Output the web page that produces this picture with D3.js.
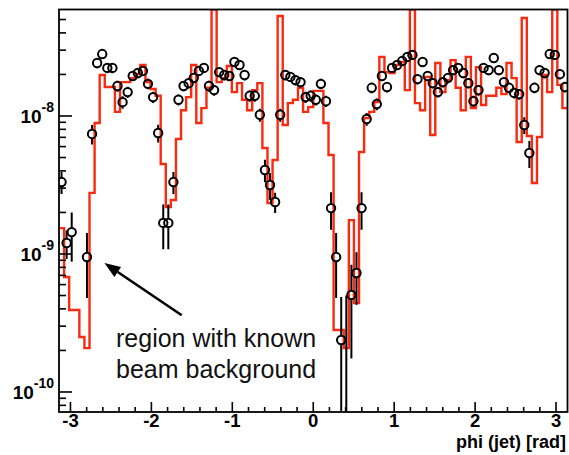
<!DOCTYPE html>
<html>
<head>
<meta charset="utf-8">
<script src="https://cdn.jsdelivr.net/npm/d3@7"></script>
<style>
  html, body { margin: 0; padding: 0; background: #fff; }
  svg { display: block; }
</style>
</head>
<body>
<svg id="chart" width="569" height="455"></svg>
<script>
// phi(jet) distribution: 100 bins over [-pi, pi]
const binCount = 100;

// simulation histogram (red), one value per bin
const histValues = [
  1.54e-9, 6.81e-10, 3.93e-10, 3.93e-10, 2.50e-10, 2.08e-10, 2.77e-9, 8.90e-9, 1.98e-8, 1.62e-8,
  1.62e-8, 1.07e-8, 1.76e-8, 1.76e-8, 1.88e-8, 2.01e-8, 2.34e-8, 1.76e-8, 1.57e-8, 1.40e-8,
  4.49e-9, 2.19e-9, 2.46e-9, 6.81e-9, 1.10e-8, 1.37e-8, 2.34e-8, 8.90e-9, 1.14e-8, 1.60e-8,
  8.00e-8, 1.76e-8, 1.88e-8, 2.30e-8, 1.49e-8, 1.73e-8, 1.31e-8, 1.10e-8, 1.54e-8, 1.73e-8,
  5.86e-9, 2.34e-9, 4.80e-9, 5.30e-8, 8.61e-9, 1.24e-8, 1.31e-8, 1.60e-8, 1.07e-8, 1.16e-8,
  1.52e-8, 1.52e-8, 8.90e-9, 5.22e-9, 2.81e-10, 2.81e-10, 2.08e-10, 1.76e-9, 4.41e-10, 5.48e-9,
  9.67e-9, 1.07e-8, 1.26e-8, 2.68e-8, 2.08e-8, 2.05e-8, 2.34e-8, 2.46e-8, 1.54e-8, 8.00e-8,
  1.24e-8, 1.10e-8, 1.92e-8, 7.28e-9, 2.42e-8, 1.49e-8, 1.82e-8, 2.54e-8, 1.60e-8, 1.10e-8,
  2.68e-8, 1.14e-8, 2.26e-8, 1.20e-8, 1.40e-8, 1.40e-8, 1.60e-8, 1.44e-8, 2.42e-8, 1.88e-8,
  6.48e-9, 5.13e-8, 7.16e-9, 3.27e-9, 7.05e-9, 1.98e-8, 1.49e-8, 8.00e-8, 1.68e-8, 1.14e-8
];

// measured points (open circles); null = empty bin
const dataValues = [
  3.32e-9, 1.20e-9, 1.44e-9, null, null, 9.5e-10, 7.41e-9, 2.42e-8, 2.81e-8, 2.23e-8,
  2.23e-8, 1.65e-8, 1.26e-8, 1.49e-8, 1.95e-8, 2.05e-8, 2.12e-8, 1.71e-8, 1.37e-8, 7.53e-9,
  1.68e-9, 1.68e-9, 3.32e-9, 1.31e-8, 1.65e-8, 1.73e-8, 1.89e-8, 2.12e-8, 2.23e-8, 1.65e-8,
  1.54e-8, 2.08e-8, 1.98e-8, 1.95e-8, 2.46e-8, 2.34e-8, 1.98e-8, 1.40e-8, 1.40e-8, 1.02e-8,
  4.06e-9, 3.16e-9, 2.38e-9, 1.02e-8, 1.98e-8, 1.92e-8, 1.82e-8, 1.76e-8, 1.37e-8, 1.40e-8,
  1.31e-8, 1.71e-8, 1.28e-8, 2.15e-9, 9.5e-10, 2.38e-10, 5.0e-11, 5.05e-10, 7.28e-10, 2.15e-9,
  9.51e-9, 1.60e-8, 1.22e-8, 1.95e-8, 1.62e-8, 2.23e-8, 2.34e-8, 2.50e-8, 2.68e-8, 2.77e-8,
  1.85e-8, 2.46e-8, 1.95e-8, 1.73e-8, 1.49e-8, 1.76e-8, 1.89e-8, 2.15e-8, 2.23e-8, 2.05e-8,
  1.73e-8, 1.28e-8, 1.54e-8, 2.23e-8, 2.15e-8, 2.63e-8, 2.15e-8, 1.76e-8, 1.60e-8, 1.47e-8,
  1.44e-8, 8.61e-9, 5.39e-9, 1.60e-8, 2.15e-8, 2.05e-8, 2.81e-8, 2.77e-8, 2.01e-8, 1.62e-8
];

// statistical uncertainty of each point
const dataErrors = [
  0.60e-9, 0.28e-9, 0.56e-9, null, null, 0.47e-9, 1.2e-9, 2.0e-9, 2.2e-9, 1.9e-9,
  1.9e-9, 1.5e-9, 1.3e-9, 1.4e-9, 1.6e-9, 1.7e-9, 1.7e-9, 1.5e-9, 1.3e-9, 1.1e-9,
  0.60e-9, 0.60e-9, 0.60e-9, 1.2e-9, 1.4e-9, 1.5e-9, 1.6e-9, 1.7e-9, 1.8e-9, 1.5e-9,
  1.4e-9, 1.7e-9, 1.7e-9, 1.6e-9, 2.0e-9, 1.9e-9, 1.7e-9, 1.3e-9, 1.3e-9, 1.1e-9,
  0.75e-9, 0.70e-9, 0.40e-9, 1.1e-9, 1.7e-9, 1.6e-9, 1.6e-9, 1.5e-9, 1.3e-9, 1.3e-9,
  1.2e-9, 1.5e-9, 1.2e-9, 0.65e-9, 0.47e-9, 2.5e-10, 4.5e-10, 3.3e-10, 3.0e-10, 0.65e-9,
  1.0e-9, 1.4e-9, 1.2e-9, 1.6e-9, 1.4e-9, 1.8e-9, 1.9e-9, 2.0e-9, 2.1e-9, 2.2e-9,
  1.6e-9, 2.0e-9, 1.6e-9, 1.5e-9, 1.3e-9, 1.5e-9, 1.6e-9, 1.8e-9, 1.8e-9, 1.7e-9,
  1.5e-9, 1.2e-9, 1.4e-9, 1.8e-9, 1.8e-9, 2.1e-9, 1.8e-9, 1.5e-9, 1.4e-9, 1.3e-9,
  1.3e-9, 1.2e-9, 1.2e-9, 1.4e-9, 1.8e-9, 1.7e-9, 2.2e-9, 2.2e-9, 1.7e-9, 1.4e-9
];

const xTickLabels = [-3, -2, -1, 0, 1, 2, 3];
const yDecades = [-10, -9, -8];
const xTitle = "phi (jet) [rad]";
const noteLines = ["region with known", "beam background"];

// ---- layout ----
const frame = { left: 59, right: 567.5, top: 9.5, bottom: 412 };
const red = "#f82a10";
const font = "'Liberation Sans', Arial, Helvetica, sans-serif";
const svg = d3.select("#chart");

const x = d3.scaleLinear().domain([-Math.PI, Math.PI]).range([frame.left, frame.right]);
const y = d3.scaleLog().domain([7.16e-11, 5.91e-8]).range([frame.bottom, frame.top]);
const yHist = y.copy().clamp(true);   // overflowing bins are drawn at the frame edge

const binWidth = 2 * Math.PI / binCount;
const binLow = i => -Math.PI + i * binWidth;
const binCenter = i => -Math.PI + (i + 0.5) * binWidth;

svg.append("defs").append("clipPath").attr("id", "plotArea")
  .append("rect")
  .attr("x", frame.left).attr("y", frame.top)
  .attr("width", frame.right - frame.left).attr("height", frame.bottom - frame.top);

const plot = svg.append("g").attr("clip-path", "url(#plotArea)");

// ---- red histogram outline ----
const stepPoints = histValues.map((v, i) => [binLow(i), v]);
stepPoints.push([Math.PI, histValues[histValues.length - 1]]);
plot.append("path")
  .attr("d", d3.line().x(d => x(d[0])).y(d => yHist(d[1])).curve(d3.curveStepAfter)(stepPoints))
  .attr("fill", "none")
  .attr("stroke", red)
  .attr("stroke-width", 2.4)
  .attr("stroke-linejoin", "miter");

// ---- data points with error bars ----
const r = 4.2;
const points = dataValues
  .map((v, i) => ({ i, v, e: dataErrors[i] }))
  .filter(d => d.v !== null);

const errG = plot.append("g").attr("stroke", "#000").attr("stroke-width", 2);
points.forEach(d => {
  const cx = x(binCenter(d.i));
  const cy = y(d.v);
  const yHi = y(d.v + d.e);
  const lo = d.v - d.e;
  const yLo = lo > 0 ? y(lo) : frame.bottom + 20;
  if (yHi < cy - r) {
    errG.append("line").attr("x1", cx).attr("x2", cx).attr("y1", yHi).attr("y2", Math.min(cy - r, frame.bottom + 20));
  }
  if (yLo > cy + r) {
    errG.append("line").attr("x1", cx).attr("x2", cx).attr("y1", cy + r).attr("y2", yLo);
  }
});

plot.append("g").selectAll("circle")
  .data(points.filter(d => y(d.v) < frame.bottom))
  .join("circle")
  .attr("cx", d => x(binCenter(d.i)))
  .attr("cy", d => y(d.v))
  .attr("r", r)
  .attr("fill", "none")
  .attr("stroke", "#000")
  .attr("stroke-width", 2);

// ---- frame ----
svg.append("rect")
  .attr("x", frame.left).attr("y", frame.top)
  .attr("width", frame.right - frame.left).attr("height", frame.bottom - frame.top)
  .attr("fill", "none").attr("stroke", "#000").attr("stroke-width", 1.8);

// ---- y axis ticks (log, inward) ----
const [yMin, yMax] = y.domain();
const yTickG = svg.append("g").attr("stroke", "#000").attr("stroke-width", 1.6);
for (let dec = -11; dec <= -7; dec++) {
  for (let m = 1; m <= 9; m++) {
    const v = m * Math.pow(10, dec);
    if (v < yMin || v > yMax) continue;
    const len = m === 1 ? 13 : 7;
    yTickG.append("line")
      .attr("x1", frame.left).attr("x2", frame.left + len)
      .attr("y1", y(v)).attr("y2", y(v));
  }
}

const yLab = svg.append("g")
  .attr("font-family", font)
  .attr("font-weight", "bold")
  .attr("fill", "#000");
yDecades.forEach(dec => {
  const t = yLab.append("text")
    .attr("x", 54)
    .attr("y", y(Math.pow(10, dec)) + 7)
    .attr("text-anchor", "end")
    .attr("font-size", 19);
  t.append("tspan").text("10");
  t.append("tspan").attr("dy", -11).attr("font-size", 14).text(String(dec));
});

// ---- x axis ticks (inward) ----
const xTickG = svg.append("g").attr("stroke", "#000").attr("stroke-width", 1.6);
for (let k = -16; k <= 16; k++) {
  const v = k / 5;
  if (v < -Math.PI || v > Math.PI) continue;
  const major = k % 5 === 0;
  xTickG.append("line")
    .attr("x1", x(v)).attr("x2", x(v))
    .attr("y1", frame.bottom).attr("y2", frame.bottom - (major ? 10 : 5));
}

svg.append("g")
  .attr("font-family", font)
  .attr("font-weight", "bold")
  .attr("font-size", 18.5)
  .attr("text-anchor", "middle")
  .selectAll("text")
  .data(xTickLabels)
  .join("text")
  .attr("x", d => x(d))
  .attr("y", 427)
  .text(d => String(d));

svg.append("text")
  .attr("x", 566).attr("y", 448)
  .attr("text-anchor", "end")
  .attr("font-family", font)
  .attr("font-weight", "bold")
  .attr("font-size", 18)
  .text(xTitle);

// ---- annotation: arrow and note ----
const tip = [x(-2.58), y(8.6e-10)];
const tail = [x(-1.625), y(3.6e-10)];
const dx = tip[0] - tail[0], dy = tip[1] - tail[1];
const len = Math.hypot(dx, dy);
const ux = dx / len, uy = dy / len;
const headLen = 16, headHalf = 6;
const base = [tip[0] - headLen * ux, tip[1] - headLen * uy];
svg.append("line")
  .attr("x1", tail[0]).attr("y1", tail[1])
  .attr("x2", base[0]).attr("y2", base[1])
  .attr("stroke", "#000").attr("stroke-width", 2.6);
svg.append("path")
  .attr("d", `M${tip[0]},${tip[1]}L${base[0] - headHalf * uy},${base[1] + headHalf * ux}L${base[0] + headHalf * uy},${base[1] - headHalf * ux}Z`)
  .attr("fill", "#000");

svg.append("g")
  .attr("font-family", font)
  .attr("font-size", 25)
  .attr("fill", "#111")
  .selectAll("text")
  .data(noteLines)
  .join("text")
  .attr("x", 116)
  .attr("y", (d, i) => 347 + i * 31)
  .text(d => d);
</script>
</body>
</html>
